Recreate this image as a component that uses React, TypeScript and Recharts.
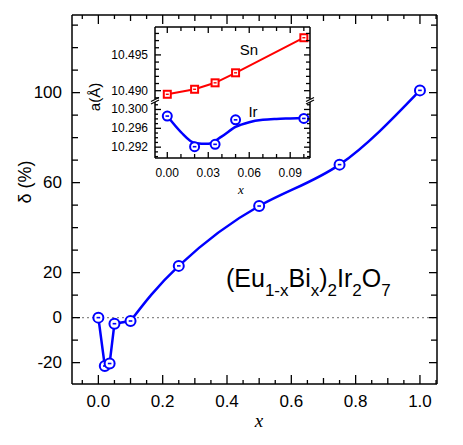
import React from 'react';
import { LineChart, Line, XAxis, YAxis, ReferenceLine } from 'recharts';

// main panel: delta (%) vs x
const mainX = [0, 0.02, 0.035, 0.05, 0.1, 0.25, 0.5, 0.75, 1.0];
const mainDelta = [0, -21.5, -20.4, -2.7, -1.5, 23, 49.6, 68, 101];

// inset: lattice constant a (Å) vs x
const insetX = [0, 0.02, 0.035, 0.05, 0.1];
const snA = [10.4895, 10.4902, 10.4911, 10.4925, 10.4974];
const irA = [10.2986, 10.2921, 10.2926, 10.2978, 10.2981];
// smooth guide curve drawn through the Ir points
const irFitX = [0, 0.01, 0.02, 0.03, 0.04, 0.05, 0.06, 0.07, 0.08, 0.09, 0.1];
const irFitA = [10.2986, 10.2952, 10.2929, 10.2927, 10.2943, 10.2963, 10.2973, 10.2978, 10.298, 10.2981, 10.2982];

// ticks
const mainXTicks = [-0.05, 0, 0.05, 0.1, 0.15, 0.2, 0.25, 0.3, 0.35, 0.4, 0.45, 0.5, 0.55, 0.6, 0.65, 0.7, 0.75, 0.8, 0.85, 0.9, 0.95, 1.0, 1.05];
const mainYTicks = [-20, -10, 0, 10, 20, 30, 40, 50, 60, 70, 80, 90, 100, 110, 120, 130];
const mainYLabels = [-20, 0, 20, 60, 100];
const insetXTicks = [0, 0.01, 0.02, 0.03, 0.04, 0.05, 0.06, 0.07, 0.08, 0.09, 0.1];
const snTicks = [10.489, 10.49, 10.491, 10.492, 10.493, 10.494, 10.495, 10.496, 10.497, 10.498];
const irTicks = [10.29, 10.291, 10.292, 10.293, 10.294, 10.295, 10.296, 10.297, 10.298, 10.299, 10.3, 10.301];

const mainData = mainX.map((x, i) => ({ x, d: mainDelta[i] }));
const dipData = mainData.slice(0, 5); // straight segments through the dip
const riseData = mainData.slice(4); // smooth curve from x = 0.1 on
const snData = insetX.map((x, i) => ({ x, a: snA[i] }));
const irData = insetX.map((x, i) => ({ x, a: irA[i] }));
const irFit = irFitX.map((x, i) => ({ x, a: irFitA[i] }));

const SANS = '"Liberation Sans", Arial, Helvetica, sans-serif';
const SERIF = '"Liberation Serif", "DejaVu Serif", serif';
const BLUE = '#0000ff';
const RED = '#ff0000';

type Side = 'left' | 'right' | 'top' | 'bottom';

const makeTick = (
  side: Side,
  len: (v: number) => number,
  label: ((v: number) => string | null) | null,
  fontSize = 17,
  gap = 8
) => (props: any) => {
  const x = Number(props.x);
  const y = Number(props.y);
  const v = props.payload.value;
  const l = len(v);
  let x2 = x;
  let y2 = y;
  if (side === 'left') x2 = x + l;
  else if (side === 'right') x2 = x - l;
  else if (side === 'top') y2 = y + l;
  else y2 = y - l;
  const txt = label ? label(v) : null;
  return (
    <g>
      <line x1={x} y1={y} x2={x2} y2={y2} stroke="#000" strokeWidth={1.3} />
      {txt !== null && side === 'left' && (
        <text x={x - gap} y={y} textAnchor="end" dominantBaseline="central" fill="#000" fontSize={fontSize} fontFamily={SANS}>
          {txt}
        </text>
      )}
      {txt !== null && side === 'bottom' && (
        <text x={x} y={y + gap} textAnchor="middle" dominantBaseline="central" fill="#000" fontSize={fontSize} fontFamily={SANS}>
          {txt}
        </text>
      )}
    </g>
  );
};

const r100 = (v: number) => Math.round(v * 100);
const mainXLen = (v: number) => (r100(v) % 20 === 0 ? 9 : r100(v) % 10 === 0 ? 6 : 4);
const mainXLabel = (v: number) => (r100(v) % 20 === 0 && v >= 0 ? v.toFixed(1) : null);
const mainYLen = (v: number) => (mainYLabels.includes(v) ? 8 : 6);
const mainYLabel = (v: number) => (mainYLabels.includes(v) ? String(v) : null);

const insXLen = (v: number) => (r100(v) % 3 === 0 ? 6 : 4);
const insXLabel = (v: number) => (r100(v) % 3 === 0 ? v.toFixed(2) : null);
const r1000 = (v: number) => Math.round(v * 1000);
const snLen = (v: number) => (r1000(v) % 5 === 0 ? 6 : 4);
const snLabel = (v: number) => (r1000(v) % 5 === 0 ? v.toFixed(3) : null);
const irLen = (v: number) => (r1000(v) % 4 === 0 ? 6 : 3);
const irLabel = (v: number) => (r1000(v) % 4 === 0 ? v.toFixed(3) : null);

const CircleDot = (r: number) => (props: any) => {
  const { cx, cy } = props;
  if (cx == null || cy == null) return <g />;
  return (
    <g>
      <circle cx={cx} cy={cy} r={r} fill="#fff" stroke={BLUE} strokeWidth={2} />
      <line x1={cx - 1.8} y1={cy} x2={cx + 1.8} y2={cy} stroke={BLUE} strokeWidth={1.6} />
    </g>
  );
};

const SquareDot = (props: any) => {
  const { cx, cy } = props;
  if (cx == null || cy == null) return <g />;
  return (
    <g>
      <rect x={cx - 3.5} y={cy - 3.5} width={7} height={7} fill="#fff" stroke={RED} strokeWidth={2} />
      <line x1={cx - 1.5} y1={cy} x2={cx + 1.5} y2={cy} stroke={RED} strokeWidth={1.4} />
    </g>
  );
};

const axisLine = { stroke: '#000', strokeWidth: 1.5 };

export default function App() {
  return (
    <div style={{ position: 'relative', width: 463, height: 445, background: '#fff' }}>
      <style>{'body{margin:0}'}</style>

      <LineChart width={463} height={445} data={mainData} margin={{ top: 14, right: 25, left: 0, bottom: 0 }}>
        <XAxis xAxisId="b" dataKey="x" type="number" domain={[-0.082, 1.053]} ticks={mainXTicks} interval={0}
          orientation="bottom" height={61} tickSize={0} tickMargin={0} axisLine={axisLine} tickLine={false}
          tick={makeTick('bottom', mainXLen, mainXLabel, 17, 17)} allowDataOverflow />
        <XAxis xAxisId="t" dataKey="x" type="number" domain={[-0.082, 1.053]} ticks={mainXTicks} interval={0}
          orientation="top" height={1} tickSize={0} tickMargin={0} axisLine={axisLine} tickLine={false}
          tick={makeTick('top', mainXLen, null)} allowDataOverflow />
        <YAxis yAxisId="l" type="number" domain={[-29.5, 134.5]} ticks={mainYTicks} interval={0}
          width={72} tickSize={0} tickMargin={0} axisLine={axisLine} tickLine={false}
          tick={makeTick('left', mainYLen, mainYLabel, 17, 10)} allowDataOverflow />
        <YAxis yAxisId="r" orientation="right" type="number" domain={[-29.5, 134.5]} ticks={mainYTicks} interval={0}
          width={1} tickSize={0} tickMargin={0} axisLine={axisLine} tickLine={false}
          tick={makeTick('right', mainYLen, null)} allowDataOverflow />
        <ReferenceLine xAxisId="b" yAxisId="l" y={0} stroke="#8a8a8a" strokeWidth={1.2} strokeDasharray="2 3" />
        <Line xAxisId="b" yAxisId="l" data={dipData} type="linear" dataKey="d" stroke={BLUE} strokeWidth={2.5}
          dot={false} activeDot={false} isAnimationActive={false} />
        <Line xAxisId="b" yAxisId="l" data={riseData} type="natural" dataKey="d" stroke={BLUE} strokeWidth={2.5}
          dot={false} activeDot={false} isAnimationActive={false} />
        <Line xAxisId="b" yAxisId="l" data={mainData} type="linear" dataKey="d" stroke="none"
          dot={CircleDot(5)} activeDot={false} isAnimationActive={false} />
      </LineChart>

      {/* inset, upper part (Sn) */}
      <div style={{ position: 'absolute', left: 100, top: 25 }}>
        <LineChart width={215} height={76} data={snData} margin={{ top: 1, right: 4, left: 0, bottom: 0 }}>
          <XAxis dataKey="x" type="number" domain={[-0.009, 0.1045]} ticks={insetXTicks} interval={0}
            orientation="top" height={1} tickSize={0} tickMargin={0} axisLine={axisLine} tickLine={false}
            tick={makeTick('top', insXLen, null)} allowDataOverflow />
          <YAxis yAxisId="l" type="number" domain={[10.48856, 10.4989]} ticks={snTicks} interval={0}
            width={55} tickSize={0} tickMargin={0} axisLine={axisLine} tickLine={false}
            tick={makeTick('left', snLen, snLabel, 12, 7)} allowDataOverflow />
          <YAxis yAxisId="r" orientation="right" type="number" domain={[10.48856, 10.4989]} ticks={snTicks} interval={0}
            width={1} tickSize={0} tickMargin={0} axisLine={axisLine} tickLine={false}
            tick={makeTick('right', snLen, null)} allowDataOverflow />
          <Line yAxisId="l" type="linear" dataKey="a" stroke={RED} strokeWidth={2}
            dot={SquareDot} activeDot={false} isAnimationActive={false} />
        </LineChart>
      </div>

      {/* inset, lower part (Ir) */}
      <div style={{ position: 'absolute', left: 100, top: 101 }}>
        <LineChart width={215} height={90} margin={{ top: 0, right: 4, left: 0, bottom: 0 }}>
          <XAxis dataKey="x" type="number" domain={[-0.009, 0.1045]} ticks={insetXTicks} interval={0}
            orientation="bottom" height={33} tickSize={0} tickMargin={0} axisLine={axisLine} tickLine={false}
            tick={makeTick('bottom', insXLen, insXLabel, 12, 15)} allowDataOverflow />
          <YAxis yAxisId="l" type="number" domain={[10.2897, 10.3018]} ticks={irTicks} interval={0}
            width={55} tickSize={0} tickMargin={0} axisLine={axisLine} tickLine={false}
            tick={makeTick('left', irLen, irLabel, 12, 7)} allowDataOverflow />
          <YAxis yAxisId="r" orientation="right" type="number" domain={[10.2897, 10.3018]} ticks={irTicks} interval={0}
            width={1} tickSize={0} tickMargin={0} axisLine={axisLine} tickLine={false}
            tick={makeTick('right', irLen, null)} allowDataOverflow />
          <Line yAxisId="l" data={irFit} type="monotone" dataKey="a" stroke={BLUE} strokeWidth={2.5}
            dot={false} activeDot={false} isAnimationActive={false} />
          <Line yAxisId="l" data={irData} type="linear" dataKey="a" stroke="none"
            dot={CircleDot(4.5)} activeDot={false} isAnimationActive={false} />
        </LineChart>
      </div>

      {/* titles, annotations and axis-break marks */}
      <svg width={463} height={445} style={{ position: 'absolute', left: 0, top: 0, pointerEvents: 'none' }}>
        <text transform="translate(25,182) rotate(-90)" textAnchor="middle" dominantBaseline="central"
          fontSize={18} fontFamily={SANS}>δ (%)</text>
        <text x={259} y={427} textAnchor="middle" fontSize={19} fontStyle="italic" fontFamily={SERIF}>x</text>
        <text x={226} y={287} fontSize={25} fontFamily={SANS}>
          (Eu<tspan fontSize={17} dy={9}>1-x</tspan>
          <tspan dy={-9}>Bi</tspan><tspan fontSize={17} dy={9}>x</tspan>
          <tspan dy={-9}>)</tspan><tspan fontSize={17} dy={9}>2</tspan>
          <tspan dy={-9}>Ir</tspan><tspan fontSize={17} dy={9}>2</tspan>
          <tspan dy={-9}>O</tspan><tspan fontSize={17} dy={9}>7</tspan>
        </text>
        <text transform="translate(94,97) rotate(-90)" textAnchor="middle" dominantBaseline="central"
          fontSize={15} fontFamily={SANS}>a(Å)</text>
        <text x={241} y={194} textAnchor="middle" fontSize={13} fontStyle="italic" fontFamily={SERIF}>x</text>
        <text x={249} y={55} textAnchor="middle" fontSize={15} fontFamily={SANS}>Sn</text>
        <text x={253} y={117} textAnchor="middle" fontSize={15} fontFamily={SANS}>Ir</text>
        {[155, 310].map((bx) => (
          <g key={bx}>
            <rect x={bx - 5} y={99} width={10} height={3} fill="#fff" />
            <line x1={bx - 4} y1={101.5} x2={bx + 4} y2={97.5} stroke="#000" strokeWidth={1.2} />
            <line x1={bx - 4} y1={104} x2={bx + 4} y2={100} stroke="#000" strokeWidth={1.2} />
          </g>
        ))}
      </svg>
    </div>
  );
}
